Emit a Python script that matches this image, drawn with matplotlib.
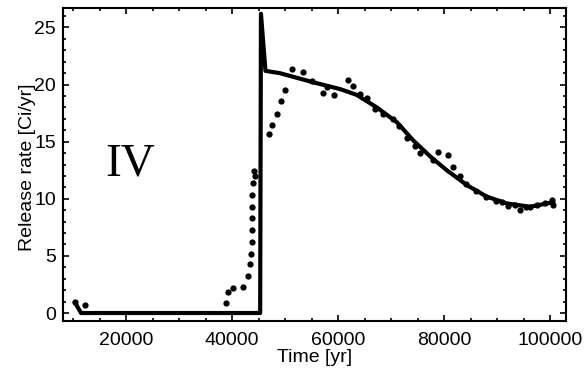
import matplotlib
matplotlib.use("Agg")
import matplotlib.pyplot as plt
from matplotlib.ticker import AutoMinorLocator

# model curve (solid)
line_t = [10400, 11500, 45300, 45450, 46300, 49000, 55300, 60400, 63500, 67300,
          71100, 74200, 77400, 80500, 84300, 88000, 91800, 96200, 100600]
line_r = [0.9, 0.0, 0.0, 26.2, 21.2, 21.0, 20.2, 19.6, 19.1, 18.0,
          16.7, 15.1, 13.7, 12.5, 11.2, 10.2, 9.6, 9.3, 9.7]

# observed points (dots)
dot_t = [10400, 12300,
         38900, 39300, 40200, 42100, 43000, 43400, 43600, 43700, 43700, 43700,
         43750, 43850, 44000, 44100, 44400,
         46900, 47600, 48400, 49300, 49900, 51400, 53300, 55000, 57200, 58000,
         59200, 61800, 62900, 64100, 65500, 67000, 68400, 70400, 71500, 73000,
         74500, 75500, 77900, 78900, 80700, 81700, 83000, 84200, 86000, 88000,
         89800, 91000, 92100, 93300, 94300, 95500, 96300, 97500, 99000, 100300,
         100500]
dot_r = [1.0, 0.7,
         0.85, 1.8, 2.2, 2.3, 3.2, 4.3, 5.2, 6.2, 7.3, 8.3,
         9.3, 10.3, 11.4, 12.4, 12.0,
         15.7, 16.5, 17.4, 18.6, 19.5, 21.4, 21.1, 20.3, 19.3, 19.8,
         19.1, 20.4, 19.9, 19.2, 18.8, 17.9, 17.4, 17.0, 16.4, 15.3,
         14.6, 14.0, 13.4, 14.1, 13.8, 12.8, 12.0, 11.3, 10.7, 10.2,
         9.8, 9.7, 9.4, 9.5, 9.0, 9.3, 9.3, 9.5, 9.6, 9.9,
         9.5]

plt.rcParams['font.family'] = ['Liberation Sans', 'DejaVu Sans']

fig = plt.figure(figsize=(5.87, 3.70), dpi=100)
ax = fig.add_axes([0.1073, 0.1324, 0.8569, 0.8459])

ax.plot(line_t, line_r, "-", color="black", lw=3)
ax.plot(dot_t, dot_r, "o", color="black", ms=4.5, mew=0)

ax.text(0.085, 0.50, "IV", transform=ax.transAxes, fontsize=34,
        family="Liberation Serif", ha="left", va="center")

ax.set_xlim(8100, 103000)
ax.set_ylim(-0.7, 26.7)
ax.set_xticks([20000, 40000, 60000, 80000, 100000])
ax.set_yticks([0, 5, 10, 15, 20, 25])
ax.xaxis.set_minor_locator(AutoMinorLocator(4))
ax.yaxis.set_minor_locator(AutoMinorLocator(5))
ax.tick_params(which="both", direction="in", top=True, right=True,
               labelsize=14, width=1.2)
ax.tick_params(which="major", length=4)
ax.tick_params(which="minor", length=2)
ax.tick_params(axis="x", pad=8)
ax.tick_params(axis="y", pad=5)
for s in ax.spines.values():
    s.set_linewidth(1.5)

ax.set_xlabel("Time [yr]", fontsize=14)
ax.set_ylabel("Release rate [Ci/yr]", fontsize=14)
ax.xaxis.set_label_coords(0.501, -0.118)
ax.yaxis.set_label_coords(-0.07, 0.49)
ax.xaxis.label.set_va("center")
ax.yaxis.label.set_va("center")

fig.savefig("out.png", dpi=100)
